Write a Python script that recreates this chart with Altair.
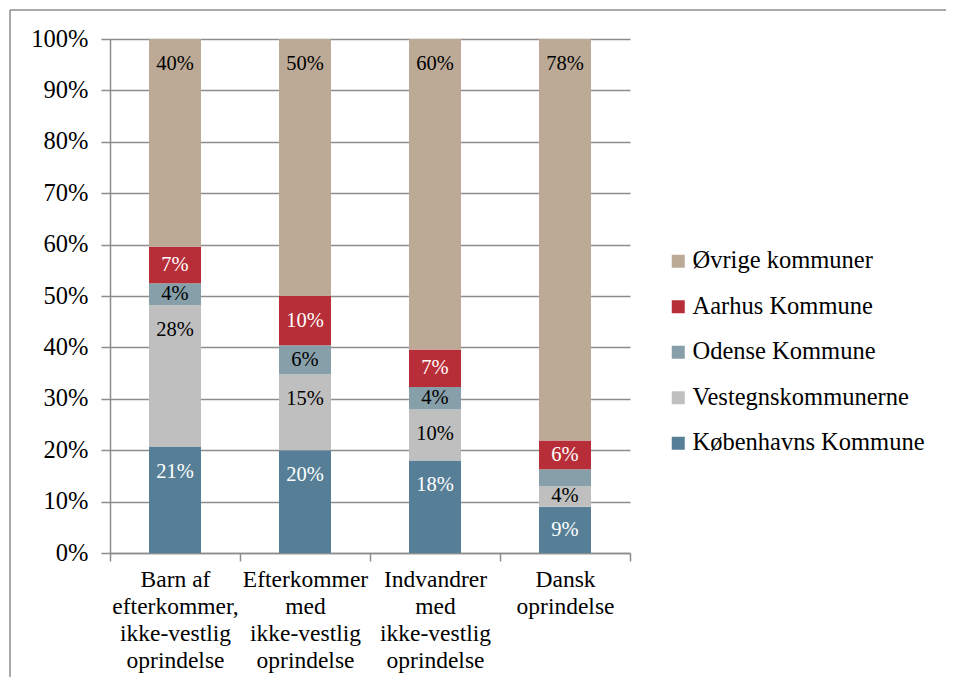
import altair as alt
import pandas as pd

# ---- data (percent of each group) ----
categories = [
    "Barn af|efterkommer,|ikke-vestlig|oprindelse",
    "Efterkommer|med|ikke-vestlig|oprindelse",
    "Indvandrer|med|ikke-vestlig|oprindelse",
    "Dansk|oprindelse",
]
# series listed bottom -> top of the stack
series = ["Københavns Kommune", "Vestegnskommunerne", "Odense Kommune",
          "Aarhus Kommune", "Øvrige kommuner"]
kobenhavn = [20.6, 20.0, 18.0, 9.0]
vestegn = [27.6, 14.8, 9.9, 4.0]
odense = [4.3, 5.6, 4.4, 3.3]
aarhus = [7.1, 9.6, 7.3, 5.6]
ovrige = [40.4, 50.0, 60.4, 78.1]
values_by_series = [kobenhavn, vestegn, odense, aarhus, ovrige]
# segments without a data label in the original
unlabelled = {("Dansk|oprindelse", "Odense Kommune")}

# ---- styles ----
colors = {
    "Øvrige kommuner": "#BCAA97",
    "Aarhus Kommune": "#B82E38",
    "Odense Kommune": "#879FA9",
    "Vestegnskommunerne": "#BFBFBF",
    "Københavns Kommune": "#567F97",
}
light_text = {"Københavns Kommune", "Aarhus Kommune"}
legend_order = ["Øvrige kommuner", "Aarhus Kommune", "Odense Kommune",
                "Vestegnskommunerne", "Københavns Kommune"]
FONT = "Liberation Serif"
GRID = "#8C8C8C"

rows = []
for si, (s, vals) in enumerate(zip(series, values_by_series)):
    for c, v in zip(categories, vals):
        rows.append({
            "cat": c, "series": s, "idx": si, "v": v / 100.0,
            "light": s in light_text,
            "show": (c, s) not in unlabelled,
        })
df = pd.DataFrame(rows)

x_enc = alt.X(
    "cat:N", sort=categories, title=None,
    scale=alt.Scale(paddingInner=0, paddingOuter=0),
    axis=alt.Axis(
        labelAngle=0, labelExpr="split(datum.label, '|')",
        tickBand="extent", tickSize=8, tickColor=GRID, domainColor=GRID,
        tickWidth=1.5, domainWidth=1.5,
        labelFont=FONT, labelFontSize=23.5, labelLineHeight=27,
        labelBaseline="top", labelPadding=6, labelColor="black",
        grid=False,
    ),
)

bars = alt.Chart(df).mark_bar(size=52).encode(
    x=x_enc,
    y=alt.Y(
        "v:Q", stack="zero", title=None,
        scale=alt.Scale(domain=[0, 1], nice=False),
        axis=alt.Axis(
            format=".0%", values=[i / 10 for i in range(11)],
            grid=True, gridColor=GRID, gridWidth=1.5,
            tickColor=GRID, tickSize=9, tickWidth=1.5,
            domainColor=GRID, domainWidth=1.5,
            labelFont=FONT, labelFontSize=24.5, labelColor="black",
            labelPadding=13,
        ),
    ),
    color=alt.Color(
        "series:N",
        scale=alt.Scale(domain=legend_order,
                        range=[colors[s] for s in legend_order]),
        legend=alt.Legend(
            title=None, orient="none", legendX=556, legendY=210,
            symbolType="square", symbolSize=169, symbolStrokeWidth=0,
            labelFont=FONT, labelFontSize=24.5, labelColor="black",
            labelOffset=2, rowPadding=20.5, labelLimit=400,
        ),
    ),
    order=alt.Order("idx:Q", sort="ascending"),
)

labels = alt.Chart(df).transform_stack(
    stack="v", groupby=["cat"], sort=[alt.SortField("idx", order="ascending")],
    as_=["lo", "hi"],
).transform_calculate(
    ypos="max(datum.hi - 0.048, (datum.lo + datum.hi) / 2)"
).transform_filter("datum.show").mark_text(
    font=FONT, fontSize=20.5, baseline="middle", align="center",
).encode(
    x=alt.X("cat:N", sort=categories),
    y=alt.Y("ypos:Q"),
    text=alt.Text("v:Q", format=".0%"),
    color=alt.condition("datum.light", alt.value("white"), alt.value("black")),
)

one = pd.DataFrame({"a": [0]})
frame_top = alt.Chart(one).mark_rule(color=GRID, strokeWidth=1.5).encode(
    x=alt.value(-100), x2=alt.value(836), y=alt.value(-29),
)
frame_left = alt.Chart(one).mark_rule(color=GRID, strokeWidth=1.5).encode(
    x=alt.value(-100), y=alt.value(-29), y2=alt.value(700),
)

chart = alt.layer(frame_top, frame_left, bars, labels).properties(
    width=520, height=514,
    autosize=alt.AutoSizeParams(type="none"),
    padding={"left": 102, "top": 31, "right": 320, "bottom": 124},
).configure_view(stroke=None)

chart.save("out.html", embed_options={"renderer": "svg", "actions": False})
